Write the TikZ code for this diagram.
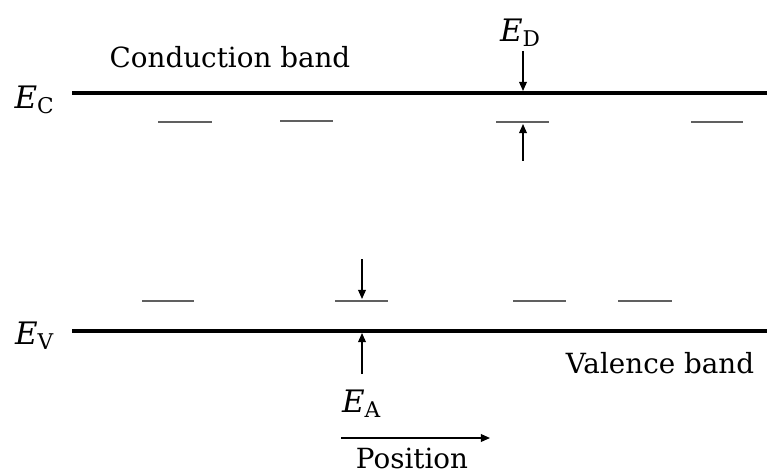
\documentclass[tikz,border=0pt]{standalone}
\usepackage{fontspec}
\setmainfont{DejaVu Serif}
\usetikzlibrary{arrows.meta, positioning}
\tikzset{
  band/.style={line width=0.9pt},
  niveau/.style={line width=0.6pt, gray!75!black},
  pfeil/.style={-{Triangle[length=2.6pt, width=2.2pt]}, line width=0.4pt},
  beschr/.style={font=\fontsize{7.9}{9}\selectfont, inner sep=1pt},
  energie/.style={font=\fontsize{8.8}{10}\selectfont, inner sep=1pt},
}

\begin{document}
\begin{tikzpicture}[x=0.01cm, y=-0.01cm]
  \useasboundingbox (0,0) rectangle (767,470);

  % --- Baender ---
  \coordinate (ecl) at (72,93);
  \coordinate (ecr) at (767,93);
  \coordinate (evl) at (72,331);
  \coordinate (evr) at (767,331);
  \draw[band] (ecl) -- (ecr);
  \draw[band] (evl) -- (evr);

  \node[energie] (ec) at (35,100) {\textit{E}\textsubscript{C}};
  \node[energie] (ev) at (35,336) {\textit{E}\textsubscript{V}};
  \node[beschr] (cb) at (230,57) {Conduction band};
  \node[beschr] (vb) at (660,363) {Valence band};

  % Donatorniveaus
  \draw[niveau] (158,122) -- (212,122);
  \draw[niveau] (280,121) -- (333,121);
  \draw[niveau] (496,122) -- (549,122);
  \draw[niveau] (691,122) -- (743,122);

  % Akzeptorniveaus
  \draw[niveau] (142,301) -- (194,301);
  \draw[niveau] (335,301) -- (388,301);
  \draw[niveau] (513,301) -- (566,301);
  \draw[niveau] (618,301) -- (672,301);

  % E_D
  \node[energie] (ed) at (521,33) {\textit{E}\textsubscript{D}};
  \coordinate (edq) at (523,51);
  \coordinate (edo) at (523,91);
  \coordinate (edu) at (523,124);
  \coordinate (edf) at (523,161);
  \draw[pfeil] (edq) -- (edo);
  \draw[pfeil] (edf) -- (edu);

  % E_A
  \coordinate (eaa) at (362,259);
  \coordinate (eao) at (362,299);
  \coordinate (eau) at (362,333);
  \coordinate (eaq) at (362,374);
  \node[energie] (ea) at (362,404) {\textit{E}\textsubscript{A}};
  \draw[pfeil] (eaa) -- (eao);
  \draw[pfeil] (eaq) -- (eau);

  % Ortsachse
  \coordinate (pa) at (341,438);
  \coordinate (pe) at (490,438);
  \draw[pfeil] (pa) -- (pe);
  \node[beschr] (pos) at (412,458) {Position};
\end{tikzpicture}
\end{document}
